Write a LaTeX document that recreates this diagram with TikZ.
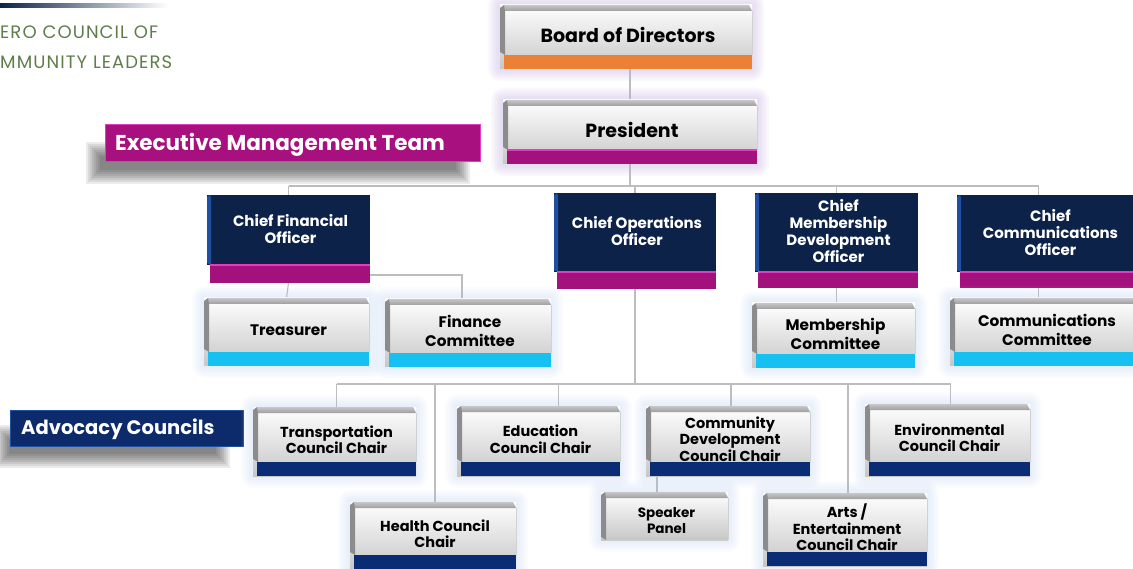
\documentclass[tikz,border=0pt]{standalone}
\usepackage{fontspec}
\setmainfont{Poppins}
\usetikzlibrary{calc}
\definecolor{navy}{HTML}{0C2249}
\definecolor{navyedge}{HTML}{1F4FA0}
\definecolor{magbar}{HTML}{A3127C}
\definecolor{magtop}{HTML}{E23CC0}
\definecolor{orangebar}{HTML}{EA8136}
\definecolor{cyanbar}{HTML}{16C0F0}
\definecolor{bluebar}{HTML}{0A2C74}
\definecolor{linegray}{HTML}{BDBDBD}
\definecolor{logogreen}{HTML}{5E7D4B}
\definecolor{glowpink}{HTML}{F7B0DC}
\definecolor{glowblue}{HTML}{A9C4EC}
\definecolor{exmag}{HTML}{A8107F}
\definecolor{advnavy}{HTML}{0D2A6B}
\pgfdeclarelayer{bg}
\pgfsetlayers{bg,main}
\tikzset{
  conn/.style={draw=linegray, line width=1.1pt},
  boxarea/.style={inner sep=0pt, outer sep=0pt},
  btext/.style={inner sep=0pt, align=center, text=black},
  wtext/.style={inner sep=0pt, align=center, text=white},
  fA/.style={font=\fontsize{19}{22}\selectfont\bfseries},
  fB/.style={font=\fontsize{15}{17}\selectfont\bfseries},
  fC/.style={font=\fontsize{15.3}{19}\selectfont\bfseries},
  fD/.style={font=\fontsize{14.5}{16.5}\selectfont\bfseries},
  fE/.style={font=\fontsize{13.5}{16}\selectfont\bfseries},
  logotext/.style={anchor=west, inner sep=0pt, text=logogreen, font=\fontsize{18}{20}\selectfont\addfontfeature{LetterSpace=6}},
}
% glow: x1 y1 x2 y2 color
\newcommand\glowbox[5]{%
  \foreach \g in {1,...,6}{%
    \fill[#5, opacity=0.05, rounded corners=2*\g] ({#1-2*\g},{#2-2*\g}) rectangle ({#3+2*\g},{#4+2*\g});
  }%
}
% light box: name x1 y1 x2 y2 barh barcolor fontstyle text
\newcommand\lbox[9]{%
  \glowbox{#2}{#3}{#4}{#5}{glowblue}
  \shade[top color=white, bottom color=black!22] (#2,#3) rectangle (#4,#5);
  \shade[top color=black!22, bottom color=black!38] (#2+4,#3) -- (#4-3,#3) -- (#4,#3+6) -- (#2+5,#3+6) -- cycle;
  \fill[black!45] (#2,#3+3) -- (#2+4,#3) -- (#2+5,#3+6) -- (#2+5,#5-#6) -- (#2,{#5-#6-3}) -- cycle;
  \fill[#7] (#2+4,{#5-#6}) rectangle (#4,#5);
  \draw[black!18, line width=0.6pt] (#4,#3+6) -- (#4,{#5-#6});
  \node[boxarea, minimum width={#4pt-#2pt}, minimum height={#5pt-#3pt}] (#1) at ({(#2+#4)/2},{(#3+#5)/2}) {};
  \node[btext, #8] (#1-t) at ({(#2+#4)/2+2},{(#3+6+#5-#6)/2+2}) {#9};
}
% dark box: name x1 y1 x2 y2 barh barcolor fontstyle text
\newcommand\dbox[9]{%
  \fill[navy] (#2,#3) rectangle (#4,{#5-#6});
  \fill[navyedge] (#2,#3+2) -- (#2+3,#3) -- (#2+4,#3+3) -- (#2+4,{#5-#6}) -- (#2,{#5-#6-2}) -- cycle;
  \fill[#7] (#2+3,{#5-#6}) rectangle (#4,#5);
  \draw[magtop, line width=1.3pt] (#2+3,{#5-#6}) -- (#4,{#5-#6});
  \node[boxarea, minimum width={#4pt-#2pt}, minimum height={#5pt-#3pt}] (#1) at ({(#2+#4)/2},{(#3+#5)/2}) {};
  \node[wtext, #8] (#1-t) at ({(#2+#4)/2+2},{(#3+#5-#6)/2-1}) {#9};
}
\begin{document}
\begin{tikzpicture}[x=1pt, y=-1pt]
\useasboundingbox (0,0) rectangle (1133,569);

% logo remnants
\shade[left color=navy, right color=white] (0,4) rectangle (168,7.5);
\node[logotext] (logo1) at (0,32) {ERO COUNCIL OF};
\node[logotext] (logo2) at (0,62) {MMUNITY LEADERS};

% top boxes
\glowbox{500}{5}{752}{69}{glowpink}
\glowbox{503}{100}{757}{164}{glowpink}
\lbox{board}{500}{5}{752}{69}{14}{orangebar}{fA}{Board of Directors}
\lbox{pres}{503}{100}{757}{164}{14}{magbar}{fA}{President}
\draw[magtop, line width=1.2pt] (507,150) -- (757,150);

% Executive Management Team label
\foreach \s in {0,...,7}{
  \fill[black, opacity=0.08] ({86+\s*2},{142+\s*2}) rectangle ({470-\s*2},{184-\s*2});
}
\node[fill=exmag, draw=magtop, line width=1pt, minimum width=375pt, minimum height=37pt, inner sep=0pt] (emt) at (292.5,143.5) {};
\node[anchor=west, inner sep=0pt, text=white, font=\fontsize{21.5}{24}\selectfont\bfseries] (emt-t) at (115,145) {Executive Management Team};

% officers
\dbox{cfo}{207}{195}{370}{283}{18}{magbar}{fB}{Chief Financial\\Officer}
\dbox{coo}{554}{193}{716}{289}{17}{magbar}{fB}{Chief Operations\\Officer}
\dbox{cmdo}{755}{193}{918}{288}{16}{magbar}{fB}{Chief\\Membership\\Development\\Officer}
\dbox{cco}{957}{195}{1140}{288}{16}{magbar}{fB}{Chief\\Communications\\Officer}

% committees
\lbox{treas}{204}{298}{369}{366}{14}{cyanbar}{fC}{Treasurer}
\lbox{fin}{385}{299}{551}{367}{14}{cyanbar}{fC}{Finance\\Committee}
\lbox{memb}{752}{303}{915}{368}{14}{cyanbar}{fC}{Membership\\Committee}
\lbox{comm}{950}{298}{1140}{366}{14}{cyanbar}{fC}{Communications\\Committee}

% Advocacy Councils label
\foreach \s in {0,...,7}{
  \fill[black, opacity=0.08] ({-5+\s*2},{425+\s*2}) rectangle ({230-\s*2},{468-\s*2});
}
\node[fill=advnavy, draw=navyedge, line width=1pt, minimum width=233pt, minimum height=36pt, inner sep=0pt] (adv) at (126.5,428) {};
\node[anchor=west, inner sep=0pt, text=white, font=\fontsize{19.5}{22}\selectfont\bfseries] (adv-t) at (21,429) {Advocacy Councils};

% councils
\lbox{trans}{253}{407}{416}{476}{14}{bluebar}{fD}{Transportation\\Council Chair}
\lbox{edu}{457}{406}{620}{476}{14}{bluebar}{fD}{Education\\Council Chair}
\lbox{cdev}{646}{406}{810}{476}{14}{bluebar}{fD}{Community\\Development\\Council Chair}
\lbox{env}{865}{404}{1030}{476}{14}{bluebar}{fD}{Environmental\\Council Chair}
\lbox{health}{350}{502}{516}{569}{14}{bluebar}{fD}{Health Council\\Chair}
\lbox{arts}{763}{493}{927}{566}{14}{bluebar}{fD}{Arts /\\Entertainment\\Council Chair}
\lbox{spk}{601}{492}{728}{540}{0}{white}{fE}{Speaker\\Panel}

% connectors
\coordinate (busA) at (0,186);
\coordinate (busB) at (0,384);
\begin{pgfonlayer}{bg}
\draw[conn] (board.south -| pres.north) -- (pres.north);
\draw[conn] (pres.south) -- (pres.south |- busA);
\draw[conn] (cfo.north |- busA) -- ([xshift=-10pt]cco.north |- busA);
\draw[conn] (cfo.north) -- (cfo.north |- busA);
\draw[conn] (coo.north) -- (coo.north |- busA);
\draw[conn] (cmdo.north) -- (cmdo.north |- busA);
\draw[conn] ([xshift=-10pt]cco.north) -- ([xshift=-10pt]cco.north |- busA);
\draw[conn] (cfo.south) -- (treas.north);
\draw[conn] ([yshift=8pt]cfo.south east) -| ([xshift=-6pt]fin.north);
\draw[conn] (cmdo.south) -- (cmdo.south |- memb.north);
\draw[conn] ([xshift=-10pt]cco.south) -- ([xshift=-10pt]cco.south |- comm.north);
\draw[conn] (coo.south) -- (coo.south |- busB);
\draw[conn] ([xshift=2pt]trans.north |- busB) -- ([xshift=3pt]env.north |- busB);
\draw[conn] ([xshift=2pt]trans.north) -- ([xshift=2pt]trans.north |- busB);
\draw[conn] ([xshift=2pt]health.north) -- ([xshift=2pt]health.north |- busB);
\draw[conn] ([xshift=20pt]edu.north) -- ([xshift=20pt]edu.north |- busB);
\draw[conn] ([xshift=3pt]cdev.north) -- ([xshift=3pt]cdev.north |- busB);
\draw[conn] ([xshift=3pt]arts.north) -- ([xshift=3pt]arts.north |- busB);
\draw[conn] ([xshift=3pt]env.north) -- ([xshift=3pt]env.north |- busB);
\draw[conn] ([xshift=11pt]cdev.south west) -- ([xshift=11pt]cdev.south west |- spk.north);
\end{pgfonlayer}
\end{tikzpicture}
\end{document}
